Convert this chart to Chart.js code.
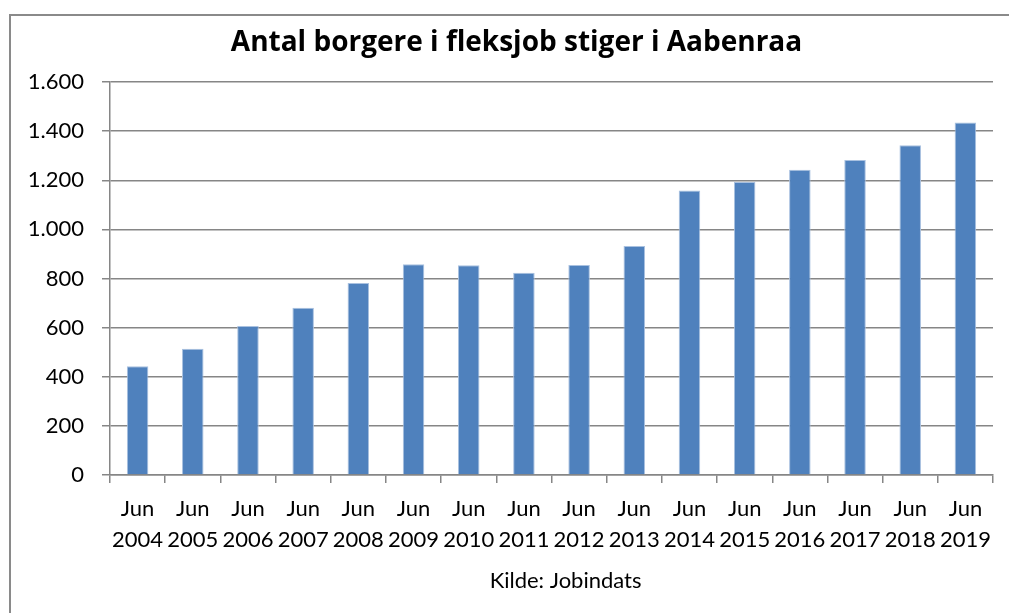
<!DOCTYPE html>
<html><head><meta charset="utf-8">
<script src="https://cdn.jsdelivr.net/npm/chart.js@4"></script>
<style>html,body{margin:0;padding:0;background:#fff;overflow:hidden}</style>
</head><body>
<canvas id="c" width="1009" height="613"></canvas>
<script>
const chartTitle = "Antal borgere i fleksjob stiger i Aabenraa";
const sourceLabel = "Kilde: Jobindats";
const months = ["Jun","Jun","Jun","Jun","Jun","Jun","Jun","Jun","Jun","Jun","Jun","Jun","Jun","Jun","Jun","Jun"];
const years = ["2004","2005","2006","2007","2008","2009","2010","2011","2012","2013","2014","2015","2016","2017","2018","2019"];
const values = [443, 514, 607, 681, 782, 858, 854, 823, 855, 932, 1158, 1193, 1243, 1282, 1342, 1435];
const yMin = 0, yMax = 1600, yStep = 200;

const categories = years.map((y, i) => [months[i], y]);
const fmt = v => String(v).replace(/\B(?=(\d{3})+(?!\d))/g, '.');
const FONT = "Lato, 'Open Sans', sans-serif";
const GRID = '#868686';

const frame = {
  id: 'frame',
  beforeDraw(chart) {
    const ctx = chart.ctx;
    ctx.save();
    ctx.fillStyle = '#fff';
    ctx.fillRect(0, 0, chart.width, chart.height);
    ctx.strokeStyle = '#8a8a8a';
    ctx.lineWidth = 2;
    ctx.beginPath();
    ctx.moveTo(chart.width, 15);
    ctx.lineTo(10, 15);
    ctx.lineTo(10, chart.height);
    ctx.stroke();
    ctx.restore();
  },
  afterDraw(chart) {
    const ctx = chart.ctx;
    ctx.save();
    ctx.fillStyle = '#000';
    ctx.font = "bold 28px 'Open Sans', Lato, sans-serif";
    ctx.textAlign = 'center';
    ctx.textBaseline = 'alphabetic';
    ctx.fillText(chartTitle, 516.5, 51);
    ctx.restore();
  }
};

new Chart(document.getElementById('c'), {
  type: 'bar',
  data: {
    labels: categories,
    datasets: [{
      data: values,
      backgroundColor: '#4F81BD',
      borderColor: '#a9c1e0',
      borderWidth: 1,
      categoryPercentage: 1,
      barPercentage: 0.39
    }]
  },
  options: {
    responsive: false,
    animation: false,
    devicePixelRatio: 1,
    layout: { padding: { top: 82, left: 0, right: 16, bottom: 0 } },
    plugins: {
      legend: { display: false },
      tooltip: { enabled: false },
      title: { display: false }
    },
    scales: {
      y: {
        min: yMin, max: yMax,
        afterFit(s) { s.width = 110; },
        ticks: { stepSize: yStep, color: '#000', font: { family: FONT, size: 22 }, padding: 18, callback: v => fmt(v) },
        grid: { color: GRID, lineWidth: 1.5, tickLength: 8, drawTicks: true },
        border: { color: GRID, width: 1.5 }
      },
      x: {
        afterFit(s) { s.height = 138; },
        ticks: { color: '#000', font: { family: FONT, size: 22, lineHeight: 1.39 }, padding: 11, maxRotation: 0, autoSkip: false },
        grid: { offset: true, drawOnChartArea: false, drawTicks: true, tickLength: 8, color: GRID, lineWidth: 1.5 },
        border: { color: GRID, width: 1.5 },
        title: { display: true, text: '     ' + sourceLabel, color: '#000', font: { family: FONT, size: 22 }, padding: { top: 0, bottom: 19 } }
      }
    }
  },
  plugins: [frame]
});
</script>
</body></html>
